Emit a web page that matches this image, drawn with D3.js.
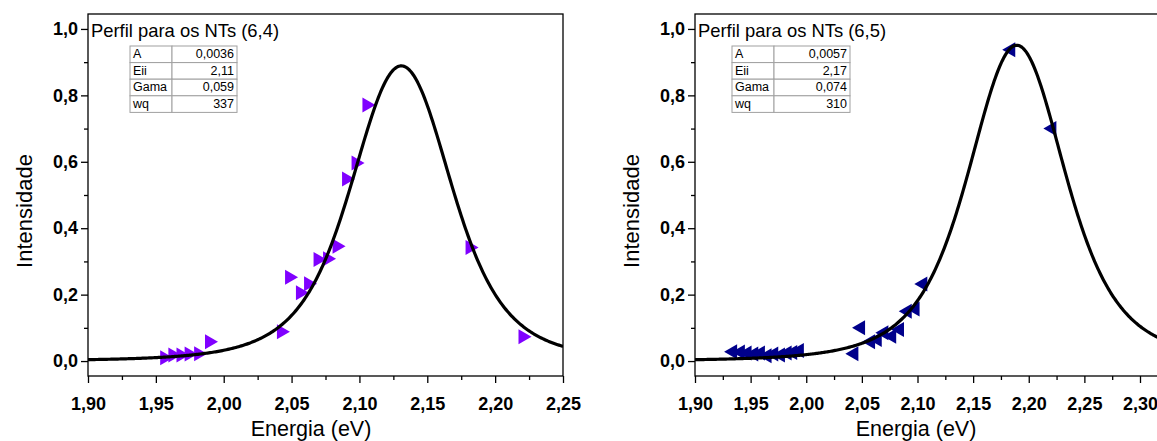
<!DOCTYPE html>
<html>
<head>
<meta charset="utf-8">
<script src="https://cdn.jsdelivr.net/npm/d3@7"></script>
<style>
  body { margin: 0; background: #fff; }
  svg { display: block; font-family: "Liberation Sans", Arial, sans-serif; }
</style>
</head>
<body>
<svg id="chart" width="1157" height="441"></svg>
<script>
// Measured excitation points, NT (6,4)
const energy64 = [1.958, 1.964, 1.970, 1.976, 1.983, 1.991, 2.044, 2.050, 2.058, 2.064,
                  2.071, 2.078, 2.085, 2.092, 2.099, 2.107, 2.183, 2.222];
const intensity64 = [0.010, 0.018, 0.018, 0.021, 0.022, 0.058, 0.088, 0.252, 0.206, 0.233,
                     0.306, 0.308, 0.346, 0.548, 0.596, 0.771, 0.342, 0.073];

// Measured excitation points, NT (6,5)
const energy65 = [1.932, 1.939, 1.945, 1.951, 1.957, 1.963, 1.969, 1.975, 1.981, 1.986,
                  1.992, 2.041, 2.047, 2.056, 2.062, 2.068, 2.075, 2.082, 2.089, 2.096,
                  2.103, 2.182, 2.219];
const intensity65 = [0.028, 0.027, 0.024, 0.021, 0.024, 0.016, 0.021, 0.018, 0.024, 0.026,
                     0.032, 0.022, 0.100, 0.058, 0.065, 0.085, 0.075, 0.095, 0.150, 0.157,
                     0.232, 0.937, 0.700];

// Resonance Raman profile fit: A, Eii (eV), Gama (eV), wq (cm^-1)
const paramNames = ["A", "Eii", "Gama", "wq"];
const paramDigits = [4, 2, 3, 0];
const params64 = [0.003649, 2.11, 0.0586, 337];
const params65 = [0.0057, 2.17, 0.074, 310];

const titles = ["Perfil para os NTs (6,4)", "Perfil para os NTs (6,5)"];
const yTicks = [0, 0.2, 0.4, 0.6, 0.8, 1.0];
const yMinorTicks = [0.1, 0.3, 0.5, 0.7, 0.9];
const xTicks64 = [1.90, 1.95, 2.00, 2.05, 2.10, 2.15, 2.20, 2.25];
const xTicks65 = [1.90, 1.95, 2.00, 2.05, 2.10, 2.15, 2.20, 2.25, 2.30];

const CM_TO_EV = 1.23984e-4;

// |A / ((E - Eii - i*g) (E - Eii - Eph - i*g))|^2
function profile(E, p) {
  const [A, Eii, g, wq] = p;
  const Eph = wq * CM_TO_EV;
  const d1 = (E - Eii) ** 2 + g * g;
  const d2 = (E - Eii - Eph) ** 2 + g * g;
  return (A * A) / (d1 * d2);
}

const fmt1 = v => v.toFixed(1).replace(".", ",");
const fmt2 = v => v.toFixed(2).replace(".", ",");

const svg = d3.select("#chart");
svg.append("rect").attr("width", 1157).attr("height", 441).attr("fill", "#fff");

const plotTop = 14, plotBottom = 376;
const y = d3.scaleLinear().domain([-0.045, 1.045]).range([plotBottom, plotTop]);

function styleAxis(sel) {
  sel.select(".domain").remove();
  sel.selectAll("line").attr("stroke", "#000").attr("stroke-width", 1.3);
  sel.selectAll("text").attr("font-size", 18).attr("font-weight", "bold")
    .attr("font-family", "Liberation Sans, Arial, sans-serif").attr("fill", "#000");
}

function panel(opts) {
  const { id, x, xTicks, energy, intensity, params, title, color, symbolPath,
          table, titleCx } = opts;
  const g = svg.append("g");
  const [x0, x1] = x.range();

  g.append("clipPath").attr("id", "clip" + id)
    .append("rect").attr("x", x0).attr("y", plotTop)
    .attr("width", x1 - x0).attr("height", plotBottom - plotTop);

  // y axis: major + minor ticks
  g.append("g").attr("transform", `translate(${x0},0)`)
    .call(d3.axisLeft(y).tickValues(yTicks).tickFormat(fmt1)
      .tickSize(7).tickSizeOuter(0).tickPadding(3))
    .call(styleAxis);
  g.append("g").attr("transform", `translate(${x0},0)`)
    .call(d3.axisLeft(y).tickValues(yMinorTicks).tickFormat("").tickSize(4).tickSizeOuter(0))
    .call(styleAxis);

  // x axis: major + minor ticks
  const xMinor = xTicks.slice(0, -1).map(v => v + 0.025);
  g.append("g").attr("transform", `translate(0,${plotBottom})`)
    .call(d3.axisBottom(x).tickValues(xTicks).tickFormat(fmt2)
      .tickSize(7).tickSizeOuter(0).tickPadding(14))
    .call(styleAxis);
  g.append("g").attr("transform", `translate(0,${plotBottom})`)
    .call(d3.axisBottom(x).tickValues(xMinor).tickFormat("").tickSize(4).tickSizeOuter(0))
    .call(styleAxis);

  // plot frame
  g.append("rect").attr("x", x0).attr("y", plotTop)
    .attr("width", x1 - x0).attr("height", plotBottom - plotTop)
    .attr("fill", "none").attr("stroke", "#000").attr("stroke-width", 1.3);

  // axis titles
  g.append("text").attr("x", titleCx).attr("y", 435.5)
    .attr("text-anchor", "middle").attr("font-size", 21.5).attr("fill", "#000")
    .text("Energia (eV)");
  g.append("text")
    .attr("transform", `translate(${x0 - 56},${(plotTop + plotBottom) / 2 + 16}) rotate(-90)`)
    .attr("text-anchor", "middle").attr("font-size", 22).attr("fill", "#000")
    .text("Intensidade");

  const plot = g.append("g").attr("clip-path", `url(#clip${id})`);

  // measured points
  plot.selectAll("path.pt").data(d3.zip(energy, intensity)).join("path")
    .attr("class", "pt")
    .attr("d", symbolPath)
    .attr("transform", d => `translate(${x(d[0])},${y(d[1])})`)
    .attr("fill", color);

  // fitted profile
  const [d0, d1] = x.domain();
  const es = d3.range(d0, d1 + 0.0005, 0.001);
  const line = d3.line().x(e => x(e)).y(e => y(profile(e, params)));
  plot.append("path").attr("d", line(es)).attr("fill", "none")
    .attr("stroke", "#000").attr("stroke-width", 3.2).attr("stroke-linejoin", "round");

  // panel title
  g.append("text").attr("x", x0 + 3).attr("y", 36.5).attr("font-size", 18.4).attr("fill", "#000")
    .text(title);

  // parameter table
  const { tx, ty, c1, c2, rh } = table;
  const tg = g.append("g");
  paramNames.forEach((name, i) => {
    const ry = ty + i * rh;
    tg.append("rect").attr("x", tx).attr("y", ry).attr("width", c1).attr("height", rh)
      .attr("fill", "#fff").attr("stroke", "#a0a0a0").attr("stroke-width", 1);
    tg.append("rect").attr("x", tx + c1).attr("y", ry).attr("width", c2).attr("height", rh)
      .attr("fill", "#fff").attr("stroke", "#a0a0a0").attr("stroke-width", 1);
    tg.append("text").attr("x", tx + 3).attr("y", ry + rh - 4.5).attr("font-size", 12.5)
      .attr("fill", "#000").text(name);
    tg.append("text").attr("x", tx + c1 + c2 - 3).attr("y", ry + rh - 4.5).attr("font-size", 12.5)
      .attr("text-anchor", "end").attr("fill", "#000")
      .text(params[i].toFixed(paramDigits[i]).replace(".", ","));
  });
}

const rightTri = "M-6.5,-7.5L6.5,0L-6.5,7.5Z";
const leftTri = "M6.5,-7.5L-6.5,0L6.5,7.5Z";

panel({
  id: "a",
  x: d3.scaleLinear().domain([1.90, 2.25]).range([88, 563]),
  xTicks: xTicks64, energy: energy64, intensity: intensity64, params: params64,
  title: titles[0], color: "#8000ff", symbolPath: rightTri, titleCx: 311,
  table: { tx: 130, ty: 46, c1: 42, c2: 65, rh: 16.6 }
});

panel({
  id: "b",
  x: d3.scaleLinear().domain([1.90, 2.33]).range([695, 695 + 0.43 * 1112.5]),
  xTicks: xTicks65, energy: energy65, intensity: intensity65, params: params65,
  title: titles[1], color: "#00008b", symbolPath: leftTri, titleCx: 916,
  table: { tx: 732, ty: 46, c1: 42, c2: 76, rh: 16.6 }
});
</script>
</body>
</html>
